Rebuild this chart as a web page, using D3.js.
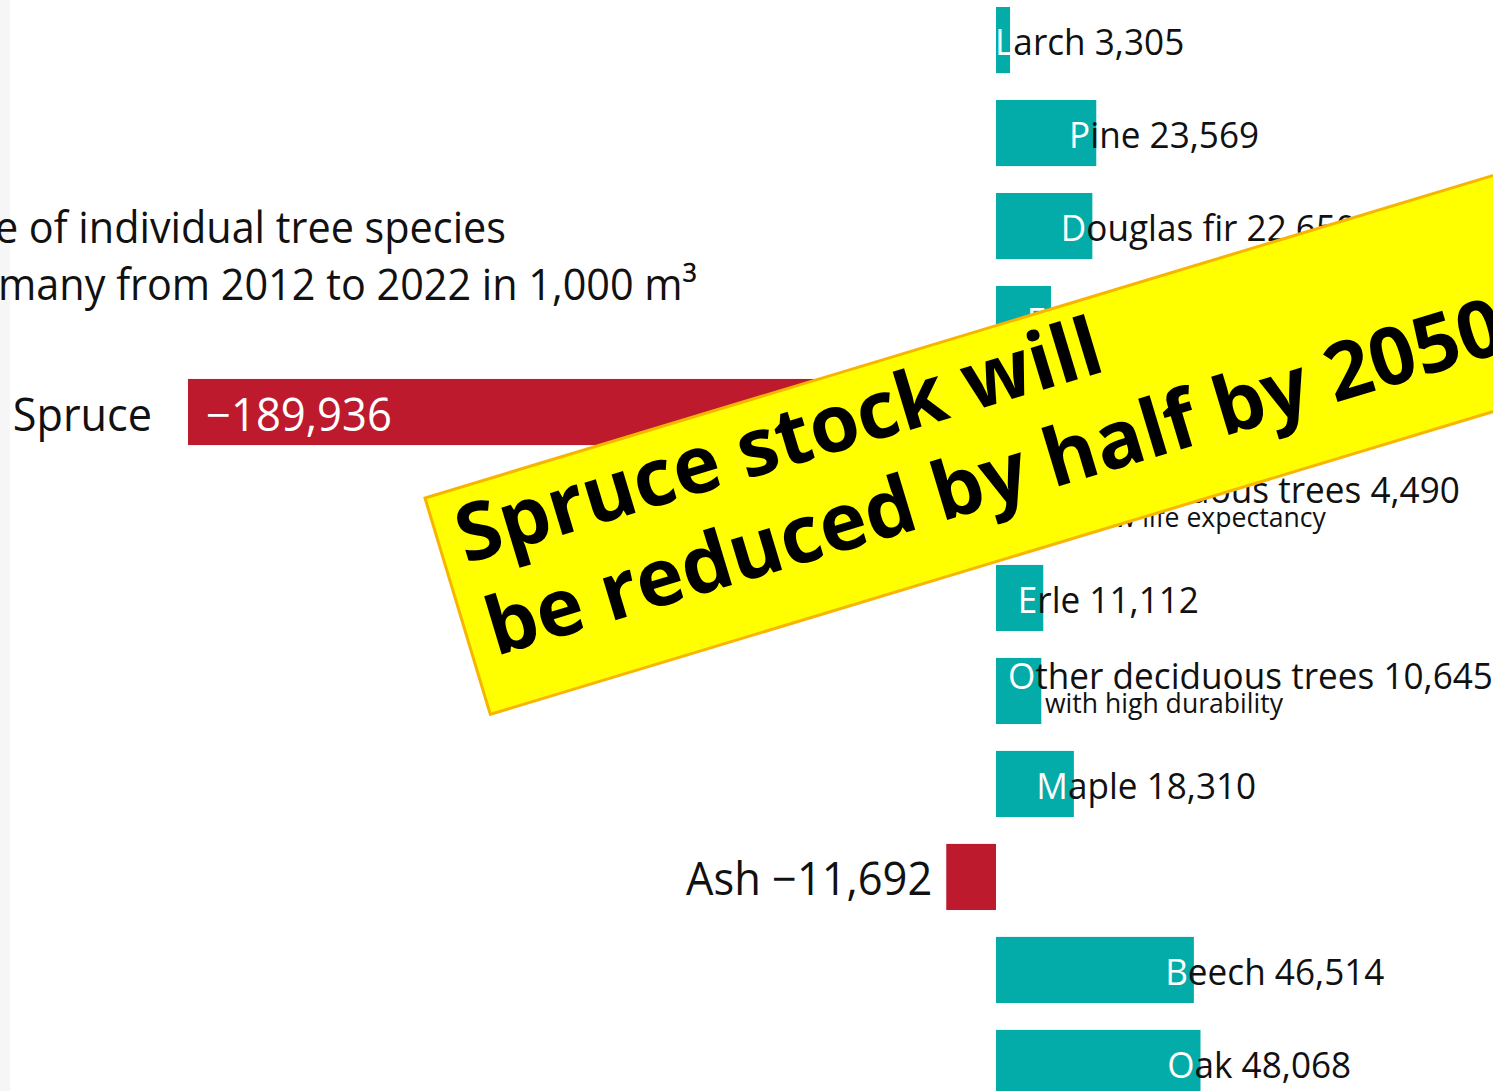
<!DOCTYPE html>
<html>
<head>
<meta charset="utf-8">
<script src="https://cdn.jsdelivr.net/npm/d3@7"></script>
<style>
    html, body { margin: 0; padding: 0; background: #fff; overflow: hidden; }
    svg { display: block; }
</style>
</head>
<body>
<svg id="chart"></svg>
<script>
// change of stock per tree species, 2012-2022, in 1,000 m3
var species = ["Larch", "Pine", "Douglas fir", "Fir", "Spruce", "Other deciduous trees",
	       "Erle", "Other deciduous trees", "Maple", "Ash", "Beech", "Oak"];
var changes = [3305, 23569, 22650, 12930, -189936, 4490,
	       11112, 10645, 18310, -11692, 46514, 48068];
var subLabels = ["", "", "", "", "", "with low life expectancy",
		 "", "with high durability", "", "", "", ""];
var titleLines = ["Change in the volume of individual tree species",
		  "in Germany from 2012 to 2022 in 1,000 m\u00b3"];
var bannerLines = ["Spruce stock will", "be reduced by half by 2050"];

var width = 1493, height = 1091;
var teal = "#03aca8", red = "#be1a2d", ink = "#111";
var labelFont = "'Open Sans', sans-serif";

var svg = d3.select("#chart").attr("width", width).attr("height", height);

// faint strip on the left edge
svg.append("rect").attr("x", 0).attr("y", 0).attr("width", 10).attr("height", height)
    .attr("fill", "#f6f6f6");

var rows = species.map(function(s, i) {
    return {name: s, value: changes[i], sub: subLabels[i], key: i};
});

var x = d3.scaleLinear().domain([d3.min(changes), 0]).range([188, 996]);
var y = d3.scaleBand().domain(rows.map(function(d) { return d.key; }))
    .range([7, 1096]).paddingInner(0.289).paddingOuter(0);
var fmt = d3.format(",");

// title, cut by the left edge like in the source
var title = svg.append("g").attr("font-family", labelFont).attr("font-size", 44).attr("fill", ink);
title.selectAll("text").data(titleLines).enter().append("text")
    .attr("text-anchor", "end")
    .attr("transform", function(d, i) {
	return "translate(" + (i == 0 ? 506 : 697) + "," + (i == 0 ? 243 : 300) + ") scale(0.94,1)";
    })
    .text(function(d) { return d; });

// bars
svg.selectAll(".bar").data(rows).enter().append("rect")
    .attr("class", "bar")
    .attr("x", function(d) { return x(Math.min(0, d.value)); })
    .attr("y", function(d) { return y(d.key); })
    .attr("width", function(d) { return Math.abs(x(d.value) - x(0)); })
    .attr("height", y.bandwidth())
    .attr("fill", function(d) { return d.value < 0 ? red : teal; });

// labels of the positive bars: first letter in white sits inside the bar end
var sx = 0.95;
rows.filter(function(d) { return d.value >= 0; }).forEach(function(d) {
    var mid = y(d.key) + y.bandwidth() / 2;
    var base = d.sub ? mid - 2 : mid + 15;
    var g = svg.append("g");
    var t = g.append("text")
	.attr("font-family", labelFont).attr("font-size", 37);
    t.append("tspan").attr("fill", "#fff").text(d.name.charAt(0));
    t.append("tspan").attr("fill", ink).text(d.name.slice(1) + " " + fmt(d.value));
    var first = t.node().getSubStringLength(0, 1) * sx;
    // keep the white letter on the bar when the bar is very short
    var left = Math.max(x(0) - 1, x(d.value) - first - 6);
    g.attr("transform", "translate(" + left + "," + base + ") scale(" + sx + ",1)");
    if(d.sub) {
	svg.append("text")
	    .attr("font-family", labelFont).attr("font-size", 28).attr("fill", ink)
	    .attr("transform", "translate(" + (left + 37) + "," + (mid + 22) + ") scale(" + sx + ",1)")
	    .text(d.sub);
    }
});

// labels of the negative bars
rows.filter(function(d) { return d.value < 0; }).forEach(function(d) {
    var mid = y(d.key) + y.bandwidth() / 2;
    var x0 = x(d.value);
    if(x(0) - x0 > 300) {
	svg.append("text")
	    .attr("font-family", labelFont).attr("font-size", 45).attr("fill", ink)
	    .attr("text-anchor", "end")
	    .attr("transform", "translate(" + (x0 - 36) + "," + (mid + 19) + ") scale(0.96,1)")
	    .text(d.name);
	svg.append("text")
	    .attr("font-family", labelFont).attr("font-size", 45).attr("fill", "#fff")
	    .attr("transform", "translate(" + (x0 + 18) + "," + (mid + 19) + ") scale(0.97,1)")
	    .text(fmt(d.value));
    }
    else {
	svg.append("text")
	    .attr("font-family", labelFont).attr("font-size", 45).attr("fill", ink)
	    .attr("text-anchor", "end")
	    .attr("transform", "translate(" + (x0 - 14) + "," + (mid + 18) + ") scale(0.965,1)")
	    .text(d.name + " " + fmt(d.value));
    }
});

// yellow banner across the chart
var banner = svg.append("g").attr("transform", "translate(425,498) rotate(-16.8)");
banner.append("rect")
    .attr("x", 0).attr("y", 0).attr("width", 1400).attr("height", 226)
    .attr("fill", "#ffff00").attr("stroke", "#f7b500").attr("stroke-width", 3);
banner.selectAll("text").data(bannerLines).enter().append("text")
    .attr("x", function(d, i) { return i == 0 ? 20 : 22; })
    .attr("y", function(d, i) { return i == 0 ? 75 : 172; })
    .attr("font-family", labelFont).attr("font-weight", 700).attr("font-size", 80)
    .attr("fill", "#000")
    .text(function(d) { return d; });
</script>
</body>
</html>
